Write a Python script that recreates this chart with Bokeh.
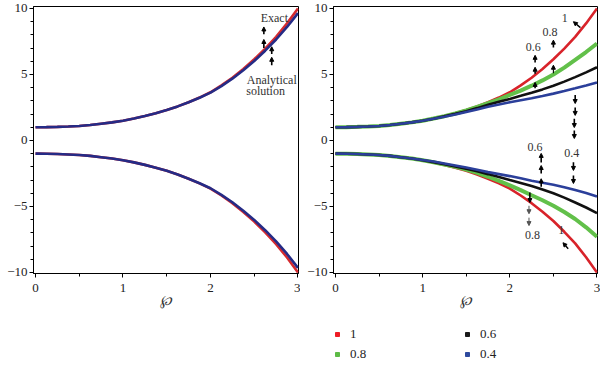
from bokeh.plotting import figure
from bokeh.models import Range1d, Label, Arrow, NormalHead, Legend, LegendItem, FixedTicker
from bokeh.layouts import column, row
from bokeh.embed import file_html
from bokeh.resources import INLINE

# ---------------- data ----------------
x_vals = [0, 0.125, 0.25, 0.375, 0.5, 0.625, 0.75, 0.875, 1.0, 1.125, 1.25, 1.375, 1.5,
          1.625, 1.75, 1.875, 2.0, 2.125, 2.25, 2.375, 2.5, 2.625, 2.75, 2.875, 3.0]

# left panel: exact vs analytical solution
exact_upper = [1.0, 1.01, 1.03, 1.06, 1.1, 1.17, 1.27, 1.37, 1.5, 1.66, 1.85, 2.06, 2.3,
               2.58, 2.9, 3.25, 3.65, 4.17, 4.75, 5.42, 6.15, 6.96, 7.85, 8.87, 10.0]
exact_lower = [-1.0, -1.01, -1.03, -1.06, -1.1, -1.17, -1.27, -1.37, -1.5, -1.66, -1.85, -2.06, -2.3,
               -2.58, -2.9, -3.25, -3.65, -4.17, -4.75, -5.42, -6.15, -6.96, -7.85, -8.87, -10.0]
analytic_upper = [1.0, 1.01, 1.03, 1.06, 1.1, 1.17, 1.27, 1.37, 1.5, 1.66, 1.85, 2.06, 2.3,
                  2.58, 2.9, 3.24, 3.62, 4.12, 4.68, 5.32, 6.02, 6.8, 7.65, 8.6, 9.65]
analytic_lower = [-1.0, -1.01, -1.03, -1.06, -1.1, -1.17, -1.27, -1.37, -1.5, -1.66, -1.85, -2.06, -2.3,
                  -2.58, -2.9, -3.24, -3.62, -4.12, -4.68, -5.32, -6.02, -6.8, -7.65, -8.6, -9.65]

# right panel: fractional orders
orders = ["1", "0.8", "0.6", "0.4"]
upper_by_order = {
    "1":   [1.0, 1.01, 1.03, 1.06, 1.1, 1.17, 1.27, 1.37, 1.5, 1.66, 1.85, 2.06, 2.3,
            2.58, 2.9, 3.25, 3.65, 4.17, 4.75, 5.42, 6.15, 6.96, 7.85, 8.87, 10.0],
    "0.8": [1.0, 1.01, 1.03, 1.06, 1.1, 1.17, 1.27, 1.37, 1.5, 1.66, 1.84, 2.04, 2.27,
            2.54, 2.82, 3.12, 3.45, 3.78, 4.15, 4.55, 5.0, 5.52, 6.1, 6.7, 7.35],
    "0.6": [1.0, 1.01, 1.03, 1.06, 1.1, 1.17, 1.27, 1.37, 1.5, 1.65, 1.83, 2.02, 2.22,
            2.45, 2.7, 2.93, 3.15, 3.38, 3.62, 3.87, 4.15, 4.46, 4.8, 5.16, 5.55],
    "0.4": [1.0, 1.01, 1.03, 1.06, 1.1, 1.17, 1.27, 1.37, 1.5, 1.64, 1.8, 1.97, 2.15,
            2.35, 2.55, 2.73, 2.9, 3.05, 3.2, 3.37, 3.55, 3.74, 3.95, 4.17, 4.4],
}
lower_by_order = {
    "1":   [-1.0, -1.01, -1.03, -1.06, -1.1, -1.17, -1.27, -1.37, -1.5, -1.66, -1.85, -2.06, -2.3,
            -2.58, -2.9, -3.25, -3.65, -4.17, -4.75, -5.4, -6.1, -6.92, -7.8, -8.85, -10.0],
    "0.8": [-1.0, -1.01, -1.03, -1.06, -1.1, -1.17, -1.27, -1.37, -1.5, -1.65, -1.83, -2.0, -2.2,
            -2.45, -2.75, -3.07, -3.4, -3.76, -4.15, -4.53, -4.95, -5.42, -5.95, -6.58, -7.3],
    "0.6": [-1.0, -1.01, -1.03, -1.06, -1.1, -1.17, -1.27, -1.37, -1.5, -1.64, -1.8, -1.97, -2.15,
            -2.34, -2.55, -2.77, -3.0, -3.22, -3.45, -3.71, -4.0, -4.33, -4.7, -5.08, -5.5],
    "0.4": [-1.0, -1.01, -1.03, -1.06, -1.1, -1.17, -1.27, -1.37, -1.48, -1.6, -1.75, -1.9, -2.05,
            -2.22, -2.4, -2.55, -2.7, -2.87, -3.05, -3.2, -3.35, -3.54, -3.75, -3.98, -4.25],
}

x_ticks = [0, 1, 2, 3]
x_minor = [0.5, 1.5, 2.5]
y_ticks = [-10, -5, 0, 5, 10]
y_minor = [v for v in range(-10, 11) if v % 5 != 0]
y_tick_text = {-10: "\u221210", -5: "\u22125"}

# ---------------- styles ----------------
FONT = "Liberation Serif"
line_colors = {"1": "#d8232a", "0.8": "#62c04a", "0.6": "#111111", "0.4": "#2b3f9a"}
line_widths = {"1": 2.6, "0.8": 4.0, "0.6": 2.6, "0.4": 2.6}
legend_colors = {"1": "#ee1c25", "0.8": "#5dbb46", "0.6": "#1a1a1a", "0.4": "#2e4a9e"}


def make_panel():
    p = figure(width=300, height=316, output_backend="svg", toolbar_location=None,
               x_range=Range1d(-0.023, 3.006), y_range=Range1d(-10.08, 10.15),
               min_border_left=33, min_border_right=2, min_border_top=6,
               min_border_bottom=43)
    p.xgrid.visible = False
    p.ygrid.visible = False
    p.outline_line_color = "black"
    p.outline_line_alpha = 1
    p.outline_line_width = 1
    p.background_fill_color = "white"
    p.xaxis.ticker = FixedTicker(ticks=x_ticks, minor_ticks=x_minor)
    p.yaxis.ticker = FixedTicker(ticks=y_ticks, minor_ticks=y_minor)
    p.yaxis.major_label_overrides = y_tick_text
    for ax in (p.xaxis[0], p.yaxis[0]):
        ax.axis_line_color = "black"
        ax.major_tick_line_color = "black"
        ax.minor_tick_line_color = "black"
        ax.major_tick_out = 4
        ax.major_tick_in = 0
        ax.minor_tick_out = 3
        ax.minor_tick_in = 0
        ax.major_label_text_font = FONT
        ax.major_label_text_font_size = "13px"
        ax.major_label_text_color = "#222222"
    p.xaxis.major_label_standoff = 6
    p.yaxis.major_label_standoff = 2
    p.xaxis.axis_label = "\u2118"
    p.xaxis.axis_label_text_font = "DejaVu Serif"
    p.xaxis.axis_label_text_font_style = "italic"
    p.xaxis.axis_label_text_font_size = "14px"
    p.xaxis.axis_label_standoff = -3
    p.xaxis.axis_label_text_color = "#333333"
    return p


def add_label(p, x, y, text, size="12px"):
    p.add_layout(Label(x=x, y=y, text=text, text_align="center", text_baseline="middle",
                       text_font=FONT, text_font_size=size, text_color="#333333"))


def add_arrow(p, x0, y0, x1, y1, width=1.6, color="black", head=4):
    p.add_layout(Arrow(x_start=x0, y_start=y0, x_end=x1, y_end=y1,
                       line_width=width, line_color=color,
                       end=NormalHead(size=head, fill_color=color, line_color=color)))


# ---------------- left panel ----------------
p1 = make_panel()
p1.line(x_vals, exact_upper, line_color="#d42a2f", line_width=2.6)
p1.line(x_vals, exact_lower, line_color="#d42a2f", line_width=2.6)
p1.line(x_vals, analytic_upper, line_color="#252b86", line_width=2.6)
p1.line(x_vals, analytic_lower, line_color="#252b86", line_width=2.6)

add_label(p1, 2.73, 9.3, "Exact")
add_arrow(p1, 2.61, 8.05, 2.61, 8.6)
add_arrow(p1, 2.61, 7.0, 2.61, 7.65)
add_arrow(p1, 2.70, 6.55, 2.70, 7.1)
add_arrow(p1, 2.70, 5.7, 2.70, 6.3)
add_label(p1, 2.70, 4.6, "Analytical")
add_label(p1, 2.63, 3.75, "solution")

# ---------------- right panel ----------------
p2 = make_panel()
p2.min_border_right = 3
for o in orders:
    p2.line(x_vals, upper_by_order[o], line_color=line_colors[o], line_width=line_widths[o])
    p2.line(x_vals, lower_by_order[o], line_color=line_colors[o], line_width=line_widths[o])

# upper annotations
add_label(p2, 2.63, 9.25, "1")
add_arrow(p2, 2.81, 8.55, 2.73, 9.0, width=1.4)
add_label(p2, 2.46, 8.25, "0.8")
add_arrow(p2, 2.50, 7.05, 2.50, 7.6)
add_arrow(p2, 2.50, 5.1, 2.50, 5.7, width=1.1)
add_label(p2, 2.27, 7.1, "0.6")
add_arrow(p2, 2.29, 5.9, 2.29, 6.45)
add_arrow(p2, 2.29, 5.05, 2.29, 5.55)
add_arrow(p2, 2.29, 3.95, 2.29, 4.4)
add_arrow(p2, 2.75, 3.45, 2.75, 2.8)
add_arrow(p2, 2.75, 2.5, 2.75, 1.9)
add_arrow(p2, 2.74, 1.65, 2.74, 0.98)
add_arrow(p2, 2.74, 0.75, 2.74, 0.15)
add_label(p2, 2.71, -0.98, "0.4")
add_arrow(p2, 2.73, -1.65, 2.73, -2.27)
add_arrow(p2, 2.73, -2.65, 2.73, -3.26)

# lower annotations
add_label(p2, 2.29, -0.5, "0.6")
add_arrow(p2, 2.36, -1.67, 2.36, -0.98)
add_arrow(p2, 2.36, -2.5, 2.36, -1.9)
add_arrow(p2, 2.36, -3.5, 2.36, -2.9)
add_arrow(p2, 2.23, -3.94, 2.23, -4.7)
add_arrow(p2, 2.22, -4.95, 2.22, -5.55, width=1.0, color="#555555")
add_arrow(p2, 2.22, -5.85, 2.22, -6.45, width=1.0, color="#555555")
add_label(p2, 2.26, -7.2, "0.8")
add_label(p2, 2.59, -6.8, "1")
add_arrow(p2, 2.67, -8.2, 2.61, -7.75, width=1.4)

# ---------------- legend strip ----------------
lf = figure(width=600, height=49, output_backend="svg", toolbar_location=None,
            x_range=Range1d(0, 1), y_range=Range1d(0, 1), min_border=0)
lf.axis.visible = False
lf.xgrid.visible = False
lf.ygrid.visible = False
lf.outline_line_color = None

nan = float("nan")
items = {}
for o in orders:
    r = lf.scatter(x=[nan], y=[nan], marker="square", size=10,
                   fill_color=legend_colors[o], line_color=legend_colors[o])
    items[o] = LegendItem(label=o, renderers=[r])


def make_legend(keys, loc):
    return Legend(items=[items[k] for k in keys], location=loc, orientation="vertical",
                  glyph_width=10, glyph_height=10, label_height=10,
                  label_text_font=FONT, label_text_font_size="13px",
                  label_text_color="#222222", label_standoff=8,
                  padding=0, margin=0, spacing=4,
                  border_line_color=None, background_fill_alpha=0)


lf.add_layout(make_legend(["1", "0.8"], (332, 3)))
lf.add_layout(make_legend(["0.6", "0.4"], (462, 3)))

layout = column(row(p1, p2), lf)

open("out.html", "w").write(file_html(layout, INLINE))
